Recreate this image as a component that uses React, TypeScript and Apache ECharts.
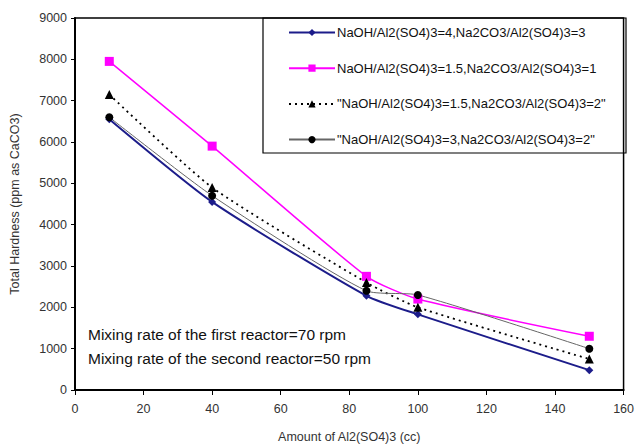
import React, { useEffect, useRef } from "react";
import * as echarts from "echarts";

const xValues = [10, 40, 85, 100, 150];
const seriesNames = [
  "NaOH/Al2(SO4)3=4,Na2CO3/Al2(SO4)3=3",
  "NaOH/Al2(SO4)3=1.5,Na2CO3/Al2(SO4)3=1",
  "\"NaOH/Al2(SO4)3=1.5,Na2CO3/Al2(SO4)3=2\"",
  "\"NaOH/Al2(SO4)3=3,Na2CO3/Al2(SO4)3=2\"",
];
const blueValues = [6550, 4550, 2280, 1830, 480];
const pinkValues = [7950, 5900, 2750, 2200, 1300];
const triangleValues = [7150, 4900, 2600, 2000, 750];
const circleValues = [6600, 4700, 2400, 2300, 1000];
const yTicks = [0, 1000, 2000, 3000, 4000, 5000, 6000, 7000, 8000, 9000];
const xTicks = [0, 20, 40, 60, 80, 100, 120, 140, 160];
const notes = [
  "Mixing rate of the first reactor=70 rpm",
  "Mixing rate of the second reactor=50 rpm",
];

const pairs = (vals: number[]) => xValues.map((x, i) => [x, vals[i]]);

export default function App() {
  const ref = useRef<HTMLDivElement>(null);
  useEffect(() => {
    if (!ref.current) return;
    const chart = echarts.init(ref.current, null, { renderer: "svg" });
    const font = "Liberation Sans, Arial, sans-serif";
    chart.setOption({
      animation: false,
      backgroundColor: "#fff",
      textStyle: { fontFamily: font },
      grid: {
        left: 72,
        right: 11,
        top: 18,
        bottom: 57,
        show: true,
        borderColor: "#000",
        borderWidth: 1.5,
      },
      xAxis: {
        type: "value",
        min: xTicks[0],
        max: xTicks[xTicks.length - 1],
        interval: 20,
        name: "Amount of Al2(SO4)3 (cc)",
        nameLocation: "middle",
        nameGap: 40,
        nameTextStyle: { fontSize: 12.5, color: "#333", fontFamily: font },
        axisLine: { show: true, lineStyle: { color: "#000", width: 2 } },
        axisTick: { show: true, length: 5, lineStyle: { color: "#000" } },
        axisLabel: { fontSize: 12.5, color: "#333", margin: 12, fontFamily: font },
        splitLine: { show: false },
      },
      yAxis: {
        type: "value",
        min: yTicks[0],
        max: yTicks[yTicks.length - 1],
        interval: 1000,
        name: "Total Hardness (ppm as CaCO3)",
        nameLocation: "middle",
        nameGap: 54,
        nameTextStyle: { fontSize: 12.5, color: "#333", fontFamily: font },
        axisLine: { show: true, lineStyle: { color: "#000", width: 2 } },
        axisTick: { show: true, length: 4, lineStyle: { color: "#000" } },
        axisLabel: {
          fontSize: 12.5,
          color: "#333",
          margin: 8,
          fontFamily: font,
          formatter: (v: number) => String(v),
        },
        splitLine: { show: false },
      },
      legend: {
        orient: "vertical",
        left: 283,
        top: 21,
        itemWidth: 46,
        itemHeight: 9,
        itemGap: 22.7,
        textStyle: { fontSize: 13, color: "#111", fontFamily: font, padding: [0, 0, 0, -3] },
        data: seriesNames,
      },
      graphic: [
        {
          type: "rect",
          shape: { x: 263, y: 18, width: 363, height: 135 },
          style: { fill: "none", stroke: "#000", lineWidth: 1.2 },
          z: 10,
        },
        {
          type: "text",
          left: 88,
          top: 326,
          style: { text: notes[0], fontSize: 15.5, fill: "#111", fontFamily: font },
        },
        {
          type: "text",
          left: 88,
          top: 350,
          style: { text: notes[1], fontSize: 15.5, fill: "#111", fontFamily: font },
        },
      ],
      series: [
        {
          name: seriesNames[0],
          type: "line",
          data: pairs(blueValues),
          smooth: 0.2,
          symbol: "diamond",
          symbolSize: 8,
          color: "#1c1c8a",
          lineStyle: { width: 2, color: "#1c1c8a" },
          itemStyle: { color: "#1c1c8a" },
        },
        {
          name: seriesNames[1],
          type: "line",
          data: pairs(pinkValues),
          smooth: 0.2,
          symbol: "rect",
          symbolSize: 9,
          color: "#ff00ff",
          lineStyle: { width: 1.5, color: "#ff00ff" },
          itemStyle: { color: "#ff00ff" },
        },
        {
          name: seriesNames[2],
          type: "line",
          data: pairs(triangleValues),
          smooth: 0.2,
          symbol: "triangle",
          symbolSize: 9,
          color: "#000",
          lineStyle: { width: 1.8, color: "#000", type: [2, 4] },
          itemStyle: { color: "#000" },
        },
        {
          name: seriesNames[3],
          type: "line",
          data: pairs(circleValues),
          smooth: 0.2,
          symbol: "circle",
          symbolSize: 8,
          color: "#000",
          lineStyle: { width: 1, color: "#666" },
          itemStyle: { color: "#000" },
        },
      ],
    });
    return () => chart.dispose();
  }, []);
  return <div ref={ref} style={{ width: 637, height: 448, position: "absolute", left: 0, top: 0 }} />;
}
